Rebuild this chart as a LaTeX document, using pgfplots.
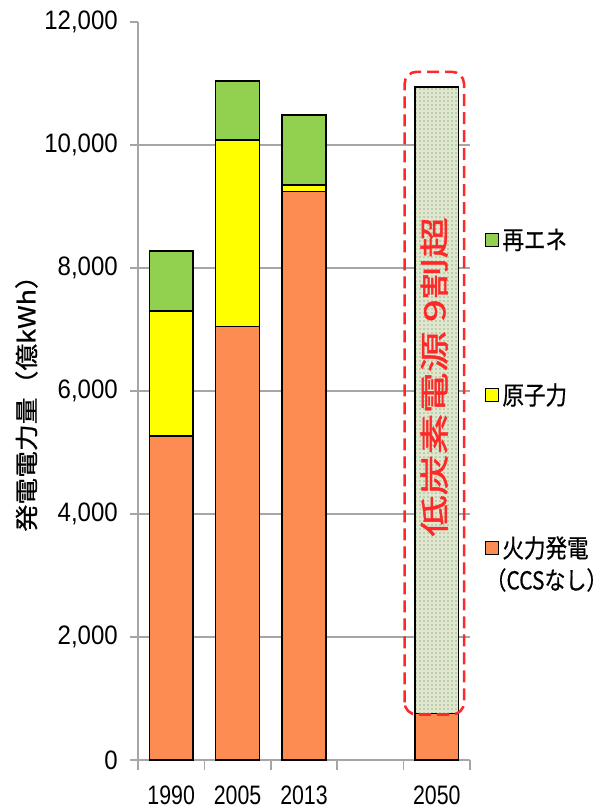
\documentclass[border=0pt]{standalone}
\usepackage{pgfplots}
\pgfplotsset{compat=1.18}
\usetikzlibrary{patterns}
\usepackage{fontspec}
\setmainfont{Liberation Sans}
\newfontfamily\tickfont[FakeStretch=0.8]{Liberation Sans}
\newfontfamily\ytickfont[FakeStretch=0.9]{Liberation Sans}
\newfontfamily\legfont[FakeStretch=0.85, FakeBold=0.6]{Noto Sans CJK JP}
\newfontfamily\ylabfont[FakeStretch=1.15, FakeBold=0.8]{Noto Sans CJK JP}
\newfontfamily\redfont[FakeStretch=1.4, FakeBold=1.5]{Noto Sans CJK JP}

\definecolor{fossil}{RGB}{252,140,82}
\definecolor{nuclear}{RGB}{255,255,0}
\definecolor{renew}{RGB}{146,208,80}
\definecolor{lowc}{RGB}{224,231,208}
\definecolor{lowcdot}{RGB}{90,130,50}
\definecolor{gridgray}{RGB}{166,166,166}
\definecolor{annot}{RGB}{255,40,40}

\begin{document}
\begin{tikzpicture}
  \path[use as bounding box] (0,0) rectangle (457.5pt,606.75pt);
  \begin{axis}[
      at={(103.5pt,36.75pt)}, anchor=south west,
      scale only axis, width=249pt, height=553.5pt,
      clip=false,
      ybar stacked, bar width=0.66,
      xmin=-0.5, xmax=4.5,
      ymin=0, ymax=12000,
      axis lines*=left,
      axis line style={gridgray, line width=1.1pt},
      xtick={0,1,2,4},
      xticklabels={1990,2005,2013,2050},
      minor xtick={-0.5,0.5,1.5,2.5,3.5,4.5},
      major x tick style={draw=none},
      minor x tick style={gridgray, line width=1.1pt},
      minor tick length=7.5pt,
      ytick={0,2000,...,10000},
      extra y ticks={12000},
      extra y tick style={grid=none},
      scaled y ticks=false,
      y tick style={gridgray, line width=1.1pt},
      major tick length=6pt,
      tick align=outside,
      ymajorgrids,
      grid style={gridgray, line width=1.1pt},
      /pgf/number format/.cd, 1000 sep={,}, assume math mode=true, /pgfplots/.cd,
      ticklabel style={inner sep=1pt},
      xticklabel style={font=\fontsize{20}{24}\tickfont, yshift=-12pt},
      yticklabel style={font=\fontsize{20}{24}\ytickfont, xshift=-8pt},
      ylabel={発電電力量（億kWh）},
      ylabel style={font=\fontsize{17.5}{20}\ylabfont, at={(axis description cs:-0.336,0.492)}, anchor=center},
    ]
    \addplot[fill=fossil, draw=black, line width=1.1pt] coordinates {(0,5270) (1,7050) (2,9240) (4,760)};
    \addplot[fill=nuclear, draw=black, line width=1.1pt] coordinates {(0,2030) (1,3030) (2,110) (4,0)};
    \addplot[fill=renew, draw=black, line width=1.1pt] coordinates {(0,975) (1,960) (2,1140) (4,0)};
    \addplot[fill=lowc, draw=black, line width=1.1pt,
      postaction={pattern=dots, pattern color=lowcdot}] coordinates {(0,0) (1,0) (2,0) (4,10180)};

    % anchors for the 2050 annotation, drawn after the axis so it sits on top of the bars
    \coordinate (frameSW) at (axis cs:3.515,740);
    \coordinate (frameNE) at (axis cs:4.41,11190);
    \coordinate (redtxt) at (axis cs:3.96,6230);

    % legend, placed by hand to keep the wide spacing
    \node[draw=black, line width=0.9pt, fill=renew, minimum size=9.75pt, inner sep=0pt]
      at (axis description cs:1.067,0.7046) {};
    \node[draw=black, line width=0.9pt, fill=nuclear, minimum size=9.75pt, inner sep=0pt]
      at (axis description cs:1.067,0.4946) {};
    \node[draw=black, line width=0.9pt, fill=fossil, minimum size=9.75pt, inner sep=0pt]
      at (axis description cs:1.067,0.2873) {};
    \node[anchor=west, inner sep=0pt, font=\fontsize{19}{22}\legfont]
      at (axis description cs:1.097,0.7046) {再エネ};
    \node[anchor=west, inner sep=0pt, font=\fontsize{19}{22}\legfont]
      at (axis description cs:1.097,0.4946) {原子力};
    \node[anchor=west, inner sep=0pt, font=\fontsize{19}{22}\legfont]
      at (axis description cs:1.097,0.2873) {火力発電};
    \node[anchor=west, inner sep=0pt, font=\fontsize{18.5}{22}\legfont]
      at (axis description cs:1.046,0.2439) {（CCSなし）\kern-0.45em};
  \end{axis}
  \draw[annot, line width=1.9pt, dash pattern=on 9pt off 4.5pt, rounded corners=9pt]
    (frameSW) rectangle (frameNE);
  \node[text=annot, rotate=90, inner sep=0pt, font=\fontsize{22}{24}\redfont]
    at (redtxt) {低炭素電源 9割超};
\end{tikzpicture}
\end{document}
